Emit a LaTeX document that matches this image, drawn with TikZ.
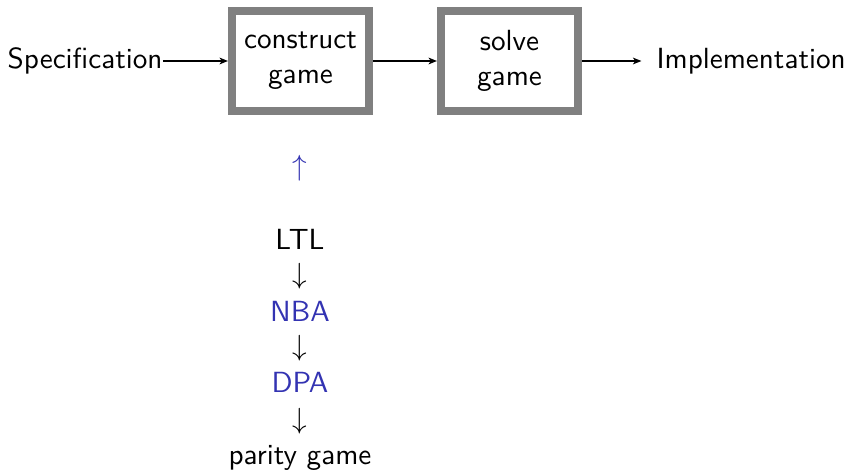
\documentclass[tikz,border=0pt]{standalone}
\usepackage{fontspec}
\usetikzlibrary{arrows.meta}
\definecolor{struct}{rgb}{0.2,0.2,0.7}
\begin{document}
\begin{tikzpicture}[x=0.343pt,y=-0.343pt,font=\sffamily,
  box/.style={draw=gray,line width=2.74pt,minimum width=47pt,minimum height=34pt,align=center,inner sep=0pt},
  lbl/.style={inner sep=0pt},
  conn/.style={-{Stealth[length=2.9pt,width=2.3pt,inset=0.8pt]},line width=0.6pt}]
\useasboundingbox (0,0) rectangle (846,471);
\node[box] (b1) at (300.5,61) {construct\\game};
\node[box] (b2) at (509.5,61) {solve\\game};
\node[lbl,anchor=east] (spec) at (163,61) {Specification};
\node[lbl,anchor=west] (impl) at (656,61) {Implementation};
\draw[conn] (spec.east) -- (b1.west);
\draw[conn] (b1.east) -- (b2.west);
\draw[conn,shorten >=5pt] (b2.east) -- (impl.west);
\node[lbl,anchor=base,text=struct] (up) at (300,176) {$\uparrow$};
\node[lbl,anchor=base] (ltl) at (300,250) {LTL};
\node[lbl,anchor=base] (d1) at (300,284) {$\downarrow$};
\node[lbl,anchor=base,text=struct] (nba) at (300,322) {NBA};
\node[lbl,anchor=base] (d2) at (300,356) {$\downarrow$};
\node[lbl,anchor=base,text=struct] (dpa) at (300,393) {DPA};
\node[lbl,anchor=base] (d3) at (300,429) {$\downarrow$};
\node[lbl,anchor=base] (pg) at (300,465) {parity game};
\end{tikzpicture}
\end{document}
